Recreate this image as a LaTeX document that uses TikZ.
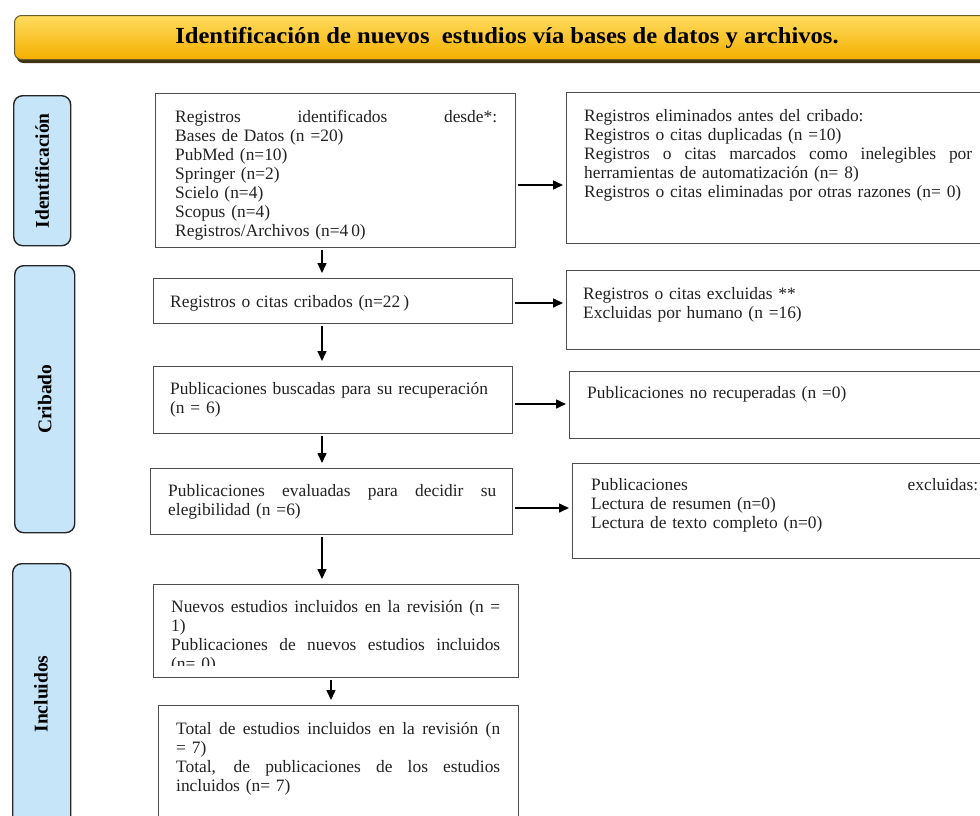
\documentclass[tikz,border=0pt]{standalone}
\usepackage{fontspec}
\setmainfont{Liberation Serif}
\usetikzlibrary{arrows.meta,shadows}
\definecolor{txt}{HTML}{222222}
\definecolor{boxline}{HTML}{4E4E4E}
\definecolor{sideblue}{HTML}{C7E5F9}
\definecolor{goldtop}{HTML}{FFDB5E}
\definecolor{goldbot}{HTML}{F4B000}
\definecolor{goldline}{HTML}{6B5A2A}
\definecolor{goldshadow}{HTML}{3E3412}
\newcommand{\spreadline}[2]{\makebox[#1][s]{\spaceskip=.3em plus 20em\relax #2}}
\tikzset{
  box/.style={draw=boxline, line width=1.4pt, fill=white, inner sep=0pt, anchor=north west},
  side/.style={draw=black!85, line width=1.4pt, fill=sideblue, rounded corners=9pt, inner sep=0pt, anchor=north west},
  sidetxt/.style={rotate=90, inner sep=0pt, font=\fontsize{19.5}{22}\selectfont\bfseries, text=black},
  body/.style={anchor=north west, inner sep=0pt, align=left, text=txt, font=\fontsize{17.4}{19}\selectfont},
  arr/.style={draw=black, line width=1.5pt, -{Triangle[length=10pt,width=9pt]}, shorten <=2pt, shorten >=5pt},
  header/.style={anchor=north west, inner sep=0pt, rounded corners=7pt, draw=goldline, line width=1pt,
    top color=goldtop, bottom color=goldbot,
    drop shadow={shadow xshift=2pt, shadow yshift=-3.5pt, fill=goldshadow, opacity=1},
    font=\fontsize{23}{26}\selectfont\bfseries, text=black}
}
\begin{document}
\begin{tikzpicture}[x=1pt,y=-1pt]
\useasboundingbox (0,0) rectangle (980,815);
\clip (0,0) rectangle (980,815);
% header
\node[header, minimum width=985pt, minimum height=44pt] (hdr) at (14,15) {\raisebox{-1pt}{\scalebox{1.07}[1]{Identificación de nuevos\ \ estudios vía bases de datos y archivos.}}};
% side labels
\node[side, minimum width=57pt, minimum height=150pt] (sid) at (13,95) {};
\node[sidetxt] (sidt) at (sid.center) {Identificación};
\node[side, minimum width=60pt, minimum height=267pt] (scr) at (14,265) {};
\node[sidetxt] (scrt) at (scr.center) {Cribado};
\node[side, minimum width=58pt, minimum height=270pt] (sin) at (12,563) {};
\node[sidetxt] (sint) at (41,694) {Incluidos};
% main column boxes
\node[box, minimum width=360pt, minimum height=154pt] (b1) at (155,93) {};
\node[box, minimum width=359pt, minimum height=45pt] (b2) at (153,278) {};
\node[box, minimum width=359pt, minimum height=67pt] (b3) at (153,366) {};
\node[box, minimum width=362pt, minimum height=66pt] (b4) at (150,468) {};
\node[box, minimum width=365pt, minimum height=93pt] (b5) at (153,584) {};
\node[box, minimum width=360pt, minimum height=140pt] (b6) at (158,705) {};
% right column boxes
\node[box, minimum width=430pt, minimum height=151pt] (r1) at (566,92) {};
\node[box, minimum width=430pt, minimum height=79pt] (r2) at (566,270) {};
\node[box, minimum width=430pt, minimum height=67pt] (r3) at (569,371) {};
\node[box, minimum width=430pt, minimum height=95pt] (r4) at (572,463) {};
% texts
\node[body, text width=322pt] (t1) at (175,108.7) {\strut\spreadline{322pt}{Registros identificados desde*:}\\
Bases de Datos (n =20)\\ PubMed (n=10)\\ Springer (n=2)\\ Scielo (n=4)\\ Scopus (n=4)\\ Registros/Archivos (n=4\,0)};
\node[body, text width=388pt] (tr1) at (584,107.7) {\strut Registros eliminados antes del cribado:\\
Registros o citas duplicadas (n =10)\\
\spreadline{388pt}{Registros o citas marcados como inelegibles por}\\
herramientas de automatización (n= 8)\\
Registros o citas eliminadas por otras razones (n= 0)};
\node[body, text width=330pt] (t2) at (170,293.7) {\strut Registros o citas cribados (n=22\,)};
\node[body, text width=390pt] (tr2) at (583,285.7) {\strut Registros o citas excluidas **\\ Excluidas por humano (n =16)};
\node[body, text width=330pt] (t3) at (170,380.7) {\strut Publicaciones buscadas para su recuperación\\ (n = 6)};
\node[body, text width=328pt] (tr3) at (587,384.7) {\strut Publicaciones no recuperadas (n =0)};
\node[body, text width=328pt] (t4) at (168,482.7) {\strut\spreadline{328pt}{Publicaciones evaluadas para decidir su}\\ elegibilidad (n =6)};
\node[body, text width=387pt] (tr4) at (591,476.7) {\strut\spreadline{387pt}{Publicaciones excluidas:}\\ Lectura de resumen (n=0)\\ Lectura de texto completo (n=0)};
\begin{scope}
\clip (153,584) rectangle (518,665);
\node[body, text width=329pt] (t5) at (171,598.7) {\strut\spreadline{329pt}{Nuevos estudios incluidos en la revisión (n =}\\ 1)\\
\spreadline{329pt}{Publicaciones de nuevos estudios incluidos}\\ (n= 0)};
\end{scope}
\node[body, text width=324pt] (t6) at (176,720.7) {\strut\spreadline{324pt}{Total de estudios incluidos en la revisión (n}\\ = 7)\\
\spreadline{324pt}{Total, de publicaciones de los estudios}\\ incluidos (n= 7)};
% arrows
\coordinate (xa) at (322,0);
\coordinate (xb) at (331,0);
\draw[arr] (b1.south -| xa) -- (b2.north -| xa);
\draw[arr] (b2.south -| xa) -- (b3.north -| xa);
\draw[arr] (b3.south -| xa) -- (b4.north -| xa);
\draw[arr] (b4.south -| xa) -- (b5.north -| xa);
\draw[arr] (b5.south -| xb) -- (b6.north -| xb);
\coordinate (ya) at (0,185);
\coordinate (yb) at (0,303);
\coordinate (yc) at (0,404);
\coordinate (yd) at (0,508);
\draw[arr, shorten >=3pt] (b1.east |- ya) -- (r1.west |- ya);
\draw[arr, shorten >=3pt] (b2.east |- yb) -- (r2.west |- yb);
\draw[arr, shorten >=3pt] (b3.east |- yc) -- (r3.west |- yc);
\draw[arr, shorten >=3pt] (b4.east |- yd) -- (r4.west |- yd);
\end{tikzpicture}
\end{document}
